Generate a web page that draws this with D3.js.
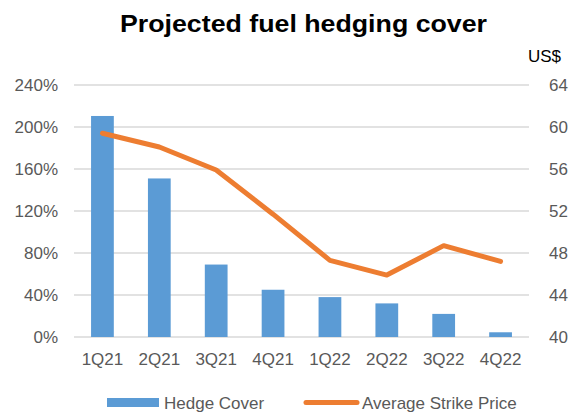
<!DOCTYPE html>
<html>
<head>
<meta charset="utf-8">
<script src="https://cdn.jsdelivr.net/npm/d3@7"></script>
<style>
  body { margin: 0; background: #fff; }
  svg text { font-family: "Liberation Sans", Arial, sans-serif; }
</style>
</head>
<body>
<div id="chart"></div>
<script>
// values
const quarters = ["1Q21", "2Q21", "3Q21", "4Q21", "1Q22", "2Q22", "3Q22", "4Q22"]
const hedgeCover = [2.105, 1.51, 0.69, 0.45, 0.38, 0.32, 0.22, 0.045]
const strikePrice = [59.4, 58.1, 55.9, 51.7, 47.3, 45.9, 48.7, 47.2]
const leftTicks = [0, 0.4, 0.8, 1.2, 1.6, 2.0, 2.4]
const rightTicks = [40, 44, 48, 52, 56, 60, 64]

const width = 580
const height = 412
const plot = { left: 74, right: 529, top: 85, bottom: 337 }
const labelSize = 17

const svg = d3.select("#chart").append("svg")
    .attr("width", width)
    .attr("height", height)

const x = d3.scaleBand().domain(quarters).range([plot.left, plot.right]).paddingInner(0.6).paddingOuter(0.3)
const yLeft = d3.scaleLinear().domain([0, 2.4]).range([plot.bottom, plot.top])
const yRight = d3.scaleLinear().domain([40, 64]).range([plot.bottom, plot.top])

// title
svg.append("text")
    .attr("x", 303.5).attr("y", 32)
    .attr("text-anchor", "middle")
    .attr("font-size", 24).attr("font-weight", "bold")
    .attr("textLength", 367).attr("lengthAdjust", "spacingAndGlyphs")
    .attr("fill", "#000")
    .text("Projected fuel hedging cover")

// gridlines
svg.append("g")
    .selectAll("line")
    .data(leftTicks)
    .enter().append("line")
    .attr("x1", plot.left).attr("x2", plot.right)
    .attr("y1", d => yLeft(d)).attr("y2", d => yLeft(d))
    .attr("stroke", "#d9d9d9").attr("stroke-width", 1.3)

// left axis
const leftAxis = svg.append("g")
    .attr("transform", `translate(${plot.left},0)`)
    .call(d3.axisLeft(yLeft).tickValues(leftTicks).tickFormat(d3.format(".0%")).tickSize(0).tickPadding(16))
leftAxis.select(".domain").remove()
leftAxis.selectAll("text").attr("font-size", labelSize).attr("fill", "#595959").attr("font-family", null)

// right axis
const rightAxis = svg.append("g")
    .attr("transform", `translate(${plot.right},0)`)
    .call(d3.axisRight(yRight).tickValues(rightTicks).tickSize(0).tickPadding(20))
rightAxis.select(".domain").remove()
rightAxis.selectAll("text").attr("font-size", labelSize).attr("fill", "#595959").attr("font-family", null)

svg.append("text")
    .attr("x", 528).attr("y", 62)
    .attr("font-size", labelSize).attr("fill", "#000")
    .text("US$")

// bottom axis
const bottomAxis = svg.append("g")
    .attr("transform", `translate(0,${plot.bottom})`)
    .call(d3.axisBottom(x).tickSize(0).tickPadding(16))
bottomAxis.select(".domain").remove()
bottomAxis.selectAll("text").attr("font-size", labelSize).attr("fill", "#595959").attr("font-family", null)

// bars
svg.append("g")
    .selectAll("rect")
    .data(hedgeCover)
    .enter().append("rect")
    .attr("x", (d, i) => x(quarters[i]))
    .attr("y", d => yLeft(d))
    .attr("width", x.bandwidth())
    .attr("height", d => yLeft(0) - yLeft(d))
    .attr("fill", "#5b9bd5")

// line
const line = d3.line()
    .x((d, i) => x(quarters[i]) + x.bandwidth() / 2)
    .y(d => yRight(d))

svg.append("path")
    .datum(strikePrice)
    .attr("d", line)
    .attr("fill", "none")
    .attr("stroke", "#ed7d31")
    .attr("stroke-width", 5)
    .attr("stroke-linecap", "round")
    .attr("stroke-linejoin", "round")

// legend
const legend = svg.append("g")
legend.append("rect")
    .attr("x", 107).attr("y", 398)
    .attr("width", 52).attr("height", 9)
    .attr("fill", "#5b9bd5")
legend.append("text")
    .attr("x", 164).attr("y", 408.5)
    .attr("font-size", labelSize).attr("fill", "#595959")
    .text("Hedge Cover")
legend.append("line")
    .attr("x1", 306).attr("x2", 357)
    .attr("y1", 402.5).attr("y2", 402.5)
    .attr("stroke", "#ed7d31").attr("stroke-width", 5)
    .attr("stroke-linecap", "round")
legend.append("text")
    .attr("x", 362).attr("y", 408.5)
    .attr("font-size", labelSize).attr("fill", "#595959")
    .text("Average Strike Price")
</script>
</body>
</html>
